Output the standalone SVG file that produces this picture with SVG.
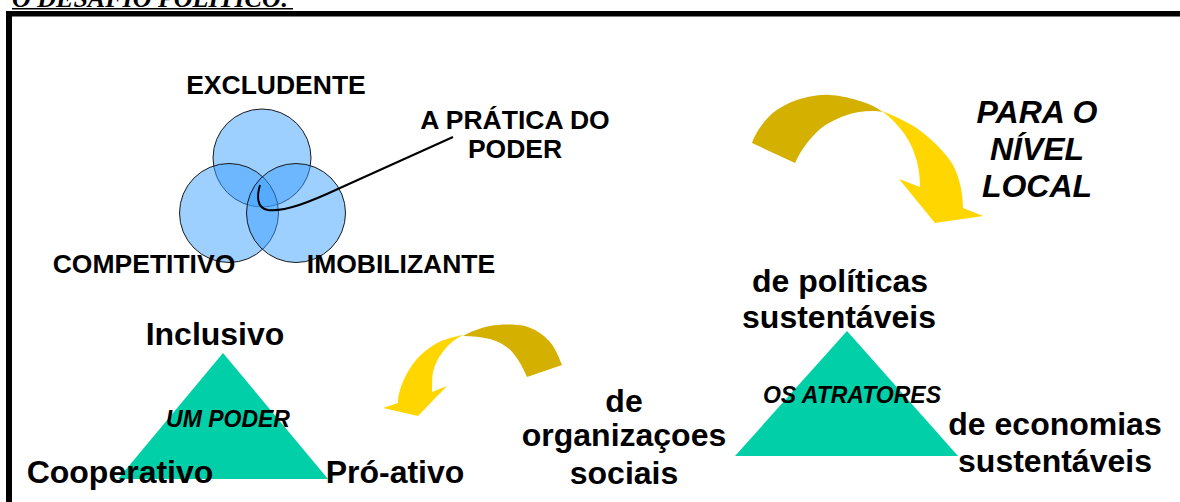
<svg xmlns="http://www.w3.org/2000/svg" width="1180" height="502" viewBox="0 0 1180 502">
<style>
.t{font-family:"Liberation Sans",Arial,sans-serif;font-weight:bold;fill:#000;text-anchor:middle}
.s{font-size:26.5px}
.b{font-size:32px}
.i{font-style:italic}
.m{font-size:23px}
.c{fill:#3ca0ff;fill-opacity:0.5;stroke:#1a1a1a;stroke-width:1}
.dk{fill:#d4b000}
.lt{fill:#ffd600}
.tri{fill:#00cfa8}
</style>
<rect width="1180" height="502" fill="#fff"/>
<g id="title">
<text x="12" y="7" style="font-family:'Liberation Serif','Times New Roman',serif;font-weight:bold;font-style:italic;font-size:26px" fill="#000">O DESAFIO POLÍTICO:</text>
<line x1="12" y1="8.7" x2="293" y2="8.7" stroke="#000" stroke-width="1.6"/>
</g>
<g id="frame" fill="#000">
<rect x="6" y="11" width="1174" height="5.5"/>
<rect x="6" y="11" width="6" height="491"/>
</g>
<g id="venn">
<circle class="c" cx="262" cy="158" r="49"/>
<circle class="c" cx="229" cy="213" r="49.5"/>
<circle class="c" cx="296" cy="213" r="49.5"/>
</g>
<g id="connectors">
<path d="M453,137 L340,188 C310,202 285,212 268,210 C256,208 257,195 260,185" fill="none" stroke="#000" stroke-width="2"/>
</g>
<g id="labels-venn">
<text class="t s" x="276" y="94">EXCLUDENTE</text>
<text class="t s" x="515" y="129">A PRÁTICA DO</text>
<text class="t s" x="515" y="158">PODER</text>
<text class="t s" x="144" y="273">COMPETITIVO</text>
<text class="t s" x="401" y="273">IMOBILIZANTE</text>
</g>
<g id="arrow-top">
<path class="dk" d="M752,143 C755,133 767,115 780,108 C795,99 815,94 830,95 C845,96 870,102 883,112 C873,110 858,111 847,115 C835,119 823,125 815,134 C807,142 800,152 795,163 Z"/>
<path class="lt" d="M882,111 C895,116 912,124 922,132 C935,142 947,155 953,165 C960,178 963,195 963,208 L983,216 L935,223 L899,179 L920,187 C920,178 919,170 917,162 C914,150 909,140 903,132 C897,124 890,117 882,111 Z"/>
</g>
<g id="para-nivel-local">
<text class="t b i" x="1037" y="123">PARA O</text>
<text class="t b i" x="1037" y="160">NÍVEL</text>
<text class="t b i" x="1037" y="197">LOCAL</text>
</g>
<g id="triangle-poder">
<polygon class="tri" points="223,353 118,479 328,479"/>
<text class="t b" x="215" y="345">Inclusivo</text>
<text class="t m i" x="228" y="427">UM PODER</text>
<text class="t b" x="120" y="483">Cooperativo</text>
<text class="t b" x="395" y="483">Pró-ativo</text>
</g>
<g id="arrow-bottom">
<path class="dk" d="M562,365 C558,355 555,348 550,342 C543,334 535,329 525,326 C515,324 500,324 490,326 C480,328 470,332 463,336 C472,336 482,337 490,339 C500,342 508,347 513,353 C519,360 523,368 527,377 Z"/>
<path class="lt" d="M463,335 C452,337 443,340 437,343 C428,348 421,354 416,360 C408,370 403,380 400,390 C398,396 398,400 398,403 L383,408 L418,416 L447,386 L432,392 C432,385 432,378 433,372 C435,364 438,358 442,353 C447,346 453,340 463,335 Z"/>
</g>
<g id="organizacoes">
<text class="t b" x="624" y="412">de</text>
<text class="t b" x="624" y="446">organizaçoes</text>
<text class="t b" x="624" y="484">sociais</text>
</g>
<g id="triangle-atratores">
<polygon class="tri" points="847,331 735,456 958,456"/>
<text class="t b" x="840" y="292">de políticas</text>
<text class="t b" x="839" y="328">sustentáveis</text>
<text class="t m i" x="852" y="403">OS ATRATORES</text>
<text class="t b" x="1055" y="435">de economias</text>
<text class="t b" x="1055" y="472">sustentáveis</text>
</g>
</svg>
